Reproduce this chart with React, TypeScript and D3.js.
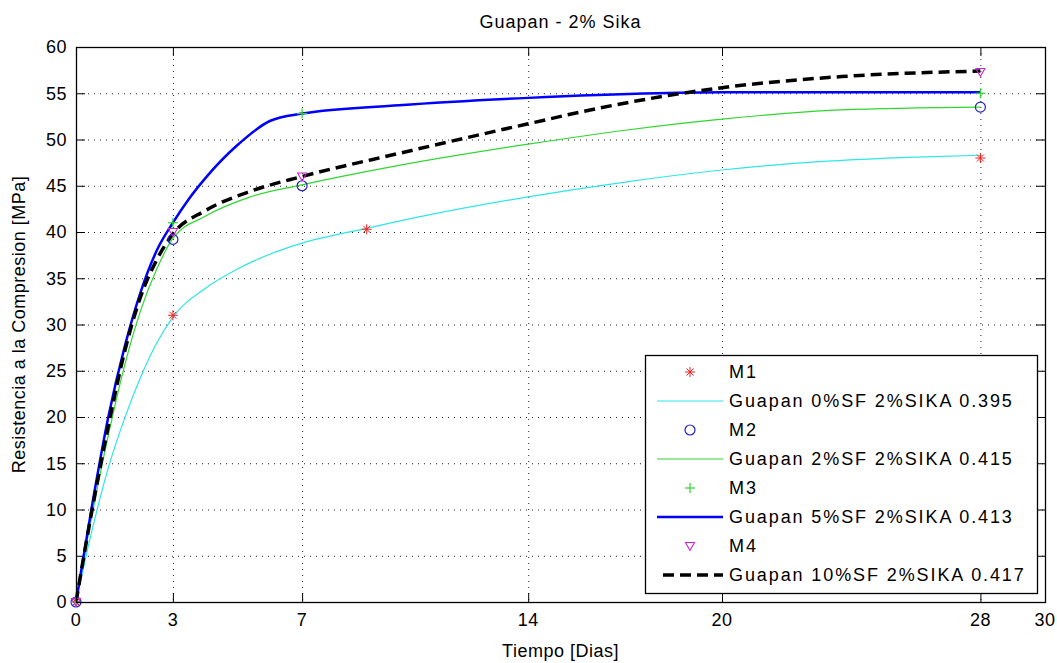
import React from "react";
import * as d3 from "d3";

const title = "Guapan - 2% Sika";
const xLabel = "Tiempo [Dias]";
const yLabel = "Resistencia a la Compresion [MPa]";
const xTicks = [0, 3, 7, 14, 20, 28, 30];
const yTicks = [0, 5, 10, 15, 20, 25, 30, 35, 40, 45, 50, 55, 60];

// measured points
const m1: [number, number][] = [[0, 0], [3, 31], [9, 40.3], [28, 48]];
const m2: [number, number][] = [[0, 0], [3, 39.2], [7, 45], [28, 53.5]];
const m3: [number, number][] = [[0, 0], [3, 41], [7, 52.8], [28, 55]];
const m4: [number, number][] = [[0, 0], [3, 40], [7, 46], [28, 57.3]];

// fitted curves
const curve0: [number, number][] = [[0, 0], [0.5, 7.8], [1, 14.5], [1.5, 19.8], [2, 24.3], [2.5, 28], [3, 30.8], [4, 33.9], [5, 36.0], [6, 37.6], [7, 38.8], [9, 40.4], [11, 41.9], [14, 43.8], [17, 45.4], [20, 46.7], [23, 47.6], [26, 48.1], [28, 48.3]];
const curve2: [number, number][] = [[0, 0], [0.5, 9.5], [1, 18], [1.5, 25.5], [2, 31.5], [2.5, 36], [3, 39.3], [4, 41.7], [5.4, 43.8], [7, 45.1], [10, 47.2], [14, 49.5], [17, 51.0], [20, 52.2], [23.7, 53.2], [28, 53.5]];
const curve5: [number, number][] = [[0, 0], [0.5, 10.5], [1, 20], [1.5, 27.5], [2, 33.5], [2.5, 38], [3, 41], [3.5, 43.6], [4, 45.8], [5, 49.4], [6, 52.0], [7, 52.8], [10, 53.7], [14, 54.5], [18, 55], [20, 55.1], [28, 55.1]];
const curve10: [number, number][] = [[0, 0], [0.5, 10], [1, 19], [1.5, 27], [2, 33], [2.5, 37], [3, 39.8], [4, 42.3], [5.4, 44.4], [7, 46.0], [10, 48.5], [14, 51.7], [16.2, 53.4], [20, 55.6], [23.7, 56.8], [28, 57.4]];

const legendLabels = [
  "M1",
  "Guapan 0%SF 2%SIKA 0.395",
  "M2",
  "Guapan 2%SF 2%SIKA 0.415",
  "M3",
  "Guapan 5%SF 2%SIKA 0.413",
  "M4",
  "Guapan 10%SF 2%SIKA 0.417",
];

const W = 1057, H = 663;
const L = 76, R = 1045, T = 47, B = 602;
const FONT = "'Liberation Sans', Arial, sans-serif";

const C_CYAN = "#2ee6e6";
const C_GREEN = "#2fd62f";
const C_BLUE = "#0000ff";
const C_RED = "#ee2020";
const C_CIRC = "#2020c8";
const C_MAG = "#d020d0";

function Marker({ kind, x, y }: { kind: string; x: number; y: number }) {
  const s = 5;
  if (kind === "star") {
    return (
      <g stroke={C_RED} strokeWidth={1}>
        <line x1={x - s} y1={y} x2={x + s} y2={y} />
        <line x1={x} y1={y - s} x2={x} y2={y + s} />
        <line x1={x - s * 0.7} y1={y - s * 0.7} x2={x + s * 0.7} y2={y + s * 0.7} />
        <line x1={x - s * 0.7} y1={y + s * 0.7} x2={x + s * 0.7} y2={y - s * 0.7} />
      </g>
    );
  }
  if (kind === "circle") {
    return <circle cx={x} cy={y} r={5} fill="none" stroke={C_CIRC} strokeWidth={1.2} />;
  }
  if (kind === "plus") {
    return (
      <g stroke={C_GREEN} strokeWidth={1.2}>
        <line x1={x - s} y1={y} x2={x + s} y2={y} />
        <line x1={x} y1={y - s} x2={x} y2={y + s} />
      </g>
    );
  }
  return (
    <path d={`M${x - 4.5},${y - 3.5}L${x + 4.5},${y - 3.5}L${x},${y + 4.5}Z`} fill="none" stroke={C_MAG} strokeWidth={1.1} />
  );
}

export default function App() {
  const x = d3.scaleLinear().domain([0, 30]).range([L, R]);
  const y = d3.scaleLinear().domain([0, 60]).range([B, T]);
  const line = d3.line<[number, number]>().x((d) => x(d[0])).y((d) => y(d[1])).curve(d3.curveMonotoneX);

  const markerSets: { kind: string; data: [number, number][] }[] = [
    { kind: "star", data: m1 },
    { kind: "circle", data: m2 },
    { kind: "plus", data: m3 },
    { kind: "tri", data: m4 },
  ];

  const gridX = [3, 7, 14, 20, 28];
  const gridY = yTicks.filter((v) => v > 0 && v < 60);
  const tickLen = 9;

  const legL = 645, legR = 1037, legT = 355, legB = 593;
  const rowY = (i: number) => 372 + i * 29;
  const legendItems = [
    { type: "marker", kind: "star" },
    { type: "line", color: C_CYAN, w: 1.2, dash: "" },
    { type: "marker", kind: "circle" },
    { type: "line", color: C_GREEN, w: 1.2, dash: "" },
    { type: "marker", kind: "plus" },
    { type: "line", color: C_BLUE, w: 2.5, dash: "" },
    { type: "marker", kind: "tri" },
    { type: "line", color: "#000", w: 3.5, dash: "11,6" },
  ];

  return (
    <svg width={W} height={H} style={{ position: "absolute", left: 0, top: 0, background: "#fff" }} fontFamily={FONT}>
      <rect x={0} y={0} width={W} height={H} fill="#fff" />
      {/* grid */}
      <g stroke="#222" strokeWidth={1} strokeDasharray="1,5">
        {gridX.map((v) => (
          <line key={"gx" + v} x1={x(v) + 0.5} x2={x(v) + 0.5} y1={T} y2={B} />
        ))}
        {gridY.map((v) => (
          <line key={"gy" + v} x1={L} x2={R} y1={y(v) + 0.5} y2={y(v) + 0.5} />
        ))}
      </g>
      {/* ticks */}
      <g stroke="#000" strokeWidth={1}>
        {xTicks.map((v) => (
          <g key={"tx" + v}>
            <line x1={x(v) + 0.5} x2={x(v) + 0.5} y1={B} y2={B - tickLen} />
            <line x1={x(v) + 0.5} x2={x(v) + 0.5} y1={T} y2={T + tickLen} />
          </g>
        ))}
        {yTicks.map((v) => (
          <g key={"ty" + v}>
            <line x1={L} x2={L + tickLen} y1={y(v) + 0.5} y2={y(v) + 0.5} />
            <line x1={R} x2={R - tickLen} y1={y(v) + 0.5} y2={y(v) + 0.5} />
          </g>
        ))}
      </g>
      {/* curves */}
      <path d={line(curve0) || ""} fill="none" stroke={C_CYAN} strokeWidth={1.2} />
      <path d={line(curve2) || ""} fill="none" stroke={C_GREEN} strokeWidth={1.2} />
      <path d={line(curve5) || ""} fill="none" stroke={C_BLUE} strokeWidth={2.5} />
      <path d={line(curve10) || ""} fill="none" stroke="#000" strokeWidth={3.5} strokeDasharray="11,6" />
      {/* markers */}
      {markerSets.map((ms) =>
        ms.data.map((d, i) => <Marker key={ms.kind + i} kind={ms.kind} x={x(d[0])} y={y(d[1])} />)
      )}
      {/* axes box */}
      <rect x={L + 0.5} y={T + 0.5} width={R - L} height={B - T} fill="none" stroke="#000" strokeWidth={1.3} />
      {/* tick labels */}
      <g fontSize={18} fill="#000" letterSpacing={0.5}>
        {xTicks.map((v) => (
          <text key={"lx" + v} x={x(v)} y={626} textAnchor="middle">{v}</text>
        ))}
        {yTicks.map((v) => (
          <text key={"ly" + v} x={67} y={y(v)} dy="0.35em" textAnchor="end">{v}</text>
        ))}
      </g>
      {/* titles */}
      <text x={(L + R) / 2} y={28} textAnchor="middle" fontSize={18} letterSpacing={1}>{title}</text>
      <text x={(L + R) / 2} y={657} textAnchor="middle" fontSize={18} letterSpacing={0.5}>{xLabel}</text>
      <text transform={`translate(25,${(T + B) / 2}) rotate(-90)`} textAnchor="middle" fontSize={18} letterSpacing={0.5}>{yLabel}</text>
      {/* legend */}
      <rect x={legL + 0.5} y={legT + 0.5} width={legR - legL} height={legB - legT} fill="#fff" stroke="#000" strokeWidth={1.3} />
      {legendItems.map((it, i) => {
        const yy = rowY(i);
        return (
          <g key={"leg" + i}>
            {it.type === "marker" ? (
              <Marker kind={it.kind as string} x={690} y={yy} />
            ) : (
              <line x1={it.dash ? 663 : 657} x2={723} y1={yy} y2={yy} stroke={it.color} strokeWidth={it.w} strokeDasharray={it.dash || undefined} />
            )}
            <text x={729} y={yy} dy="0.36em" fontSize={18} letterSpacing={1.9}>{legendLabels[i]}</text>
          </g>
        );
      })}
    </svg>
  );
}
